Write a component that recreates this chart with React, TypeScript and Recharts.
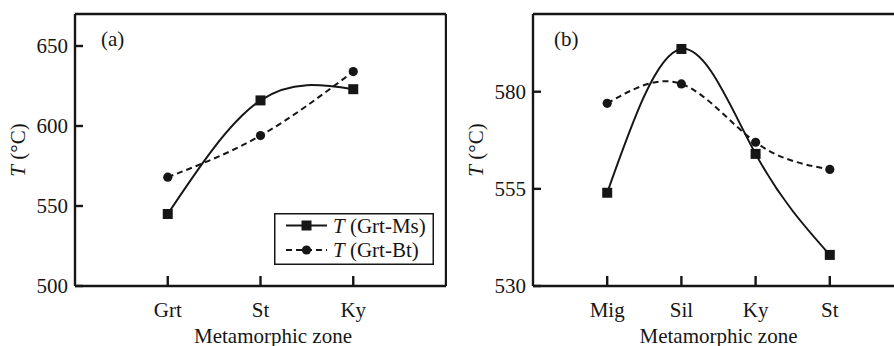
import React from 'react';
import { LineChart, Line, XAxis, YAxis, ReferenceLine, Legend } from 'recharts';

// ---- Data ----
const catsA = ['Grt', 'St', 'Ky'];
const msA = [545, 616, 623];
const btA = [568, 594, 634];
const yTicksA = [500, 550, 600, 650];
const yDomainA = [500, 670];

const catsB = ['Mig', 'Sil', 'Ky', 'St'];
const msB = [554, 591, 564, 538];
const btB = [577, 582, 567, 560];
const yTicksB = [530, 555, 580];
const yDomainB = [530, 600];

const seriesNames = ['(Grt-Ms)', '(Grt-Bt)'];

const FONT = '"Liberation Serif", "Times New Roman", Times, serif';
const INK = '#161616';
const FS = 21;

const buildRows = (cats: string[], ms: number[], bt: number[]) =>
  cats.map((c, i) => ({ x: i + 1, cat: c, ms: ms[i], bt: bt[i] }));

const dataA = buildRows(catsA, msA, btA);
const dataB = buildRows(catsB, msB, btB);

const SquareDot = (p: any) => {
  if (p.cx == null || p.cy == null) return null;
  return <rect key={`sq-${p.index}`} x={p.cx - 5} y={p.cy - 5} width={10} height={10} fill={INK} />;
};
const CircleDot = (p: any) => {
  if (p.cx == null || p.cy == null) return null;
  return <circle key={`ci-${p.index}`} cx={p.cx} cy={p.cy} r={4.6} fill={INK} />;
};

const LegendBox = () => (
  <svg width={161} height={53} style={{ display: 'block', overflow: 'visible' }}>
    <rect x={0.75} y={0.75} width={158.5} height={50.5} fill="#fff" stroke={INK} strokeWidth={1.5} />
    <line x1={12} x2={53} y1={12.5} y2={12.5} stroke={INK} strokeWidth={2} />
    <rect x={27.5} y={7.5} width={10} height={10} fill={INK} />
    <text x={59} y={19.8} fontFamily={FONT} fontSize={FS} fill={INK}>
      <tspan fontStyle="italic">T</tspan> {seriesNames[0]}
    </text>
    <line x1={12} x2={53} y1={37} y2={37} stroke={INK} strokeWidth={2} strokeDasharray="6 4" />
    <circle cx={32.5} cy={37} r={4.6} fill={INK} />
    <text x={59} y={44.3} fontFamily={FONT} fontSize={FS} fill={INK}>
      <tspan fontStyle="italic">T</tspan> {seriesNames[1]}
    </text>
  </svg>
);

const makeYLabel = () => (props: any) => {
  const vb = props.viewBox || {};
  const x = vb.x + 9.5;
  const y = vb.y + vb.height / 2;
  return (
    <text x={x} y={y} transform={`rotate(-90 ${x} ${y})`} textAnchor="middle" fontFamily={FONT} fontSize={FS} fill={INK}>
      <tspan fontStyle="italic">T</tspan> (°C)
    </text>
  );
};

const makeXLabel = (dx: number) => (props: any) => {
  const vb = props.viewBox || {};
  return (
    <text x={vb.x + vb.width / 2 + dx} y={vb.y + 57} textAnchor="middle" fontFamily={FONT} fontSize={FS} fill={INK}>
      Metamorphic zone
    </text>
  );
};

const makePanelLabel = (txt: string, x: number, y: number) => () => (
  <text x={x} y={y} fontFamily={FONT} fontSize={FS} fill={INK}>
    {txt}
  </text>
);

const tickStyle = { fill: INK, fontSize: FS, fontFamily: FONT };
const axisLine = { stroke: INK, strokeWidth: 2.4 };
const tickLine = { stroke: INK, strokeWidth: 2.4 };

export default function App() {
  return (
    <div style={{ position: 'absolute', left: 0, top: 0, width: 894, height: 346, overflow: 'hidden', background: '#fff' }}>
      <div style={{ position: 'absolute', left: 0, top: 0 }}>
        <LineChart width={447} height={346} data={dataA} margin={{ top: 14, right: 1, left: 15, bottom: 30 }}>
          <XAxis
            dataKey="x"
            type="number"
            domain={[0, 4]}
            ticks={[1, 2, 3]}
            tickFormatter={(v: number) => catsA[v - 1] ?? ''}
            height={30}
            axisLine={axisLine}
            tickLine={tickLine}
            tickSize={-10}
            tickMargin={26}
            tick={tickStyle}
            label={makeXLabel(12.5)}
          />
          <YAxis
            type="number"
            domain={yDomainA}
            ticks={yTicksA}
            width={60}
            axisLine={axisLine}
            tickLine={tickLine}
            tickSize={-8}
            tickMargin={15}
            tick={tickStyle}
            label={makeYLabel()}
            allowDataOverflow
          />
          <ReferenceLine y={670} stroke={INK} strokeWidth={2.4} label={makePanelLabel('(a)', 101, 46)} />
          <ReferenceLine x={4} stroke={INK} strokeWidth={2.4} />
          <Line type="natural" dataKey="ms" stroke={INK} strokeWidth={2} dot={SquareDot} isAnimationActive={false} />
          <Line type="natural" dataKey="bt" stroke={INK} strokeWidth={2} strokeDasharray="6 4" dot={CircleDot} isAnimationActive={false} />
          <Legend
            layout="horizontal"
            verticalAlign="middle"
            align="center"
            content={() => <LegendBox />}
            wrapperStyle={{ position: 'absolute', left: 274, top: 213, width: 161, height: 53 }}
          />
        </LineChart>
      </div>
      <div style={{ position: 'absolute', left: 447, top: 0 }}>
        <LineChart width={458} height={346} data={dataB} margin={{ top: 14, right: 1, left: 26, bottom: 30 }}>
          <XAxis
            dataKey="x"
            type="number"
            domain={[0, 5]}
            ticks={[1, 2, 3, 4]}
            tickFormatter={(v: number) => catsB[v - 1] ?? ''}
            height={30}
            axisLine={axisLine}
            tickLine={tickLine}
            tickSize={-10}
            tickMargin={26}
            tick={tickStyle}
            label={makeXLabel(0)}
          />
          <YAxis
            type="number"
            domain={yDomainB}
            ticks={yTicksB}
            width={60}
            axisLine={axisLine}
            tickLine={tickLine}
            tickSize={-8}
            tickMargin={15}
            tick={tickStyle}
            label={makeYLabel()}
            allowDataOverflow
          />
          <ReferenceLine y={600} stroke={INK} strokeWidth={2.4} label={makePanelLabel('(b)', 107, 46)} />
          <Line type="natural" dataKey="ms" stroke={INK} strokeWidth={2} dot={SquareDot} isAnimationActive={false} />
          <Line type="natural" dataKey="bt" stroke={INK} strokeWidth={2} strokeDasharray="6 4" dot={CircleDot} isAnimationActive={false} />
        </LineChart>
      </div>
    </div>
  );
}
